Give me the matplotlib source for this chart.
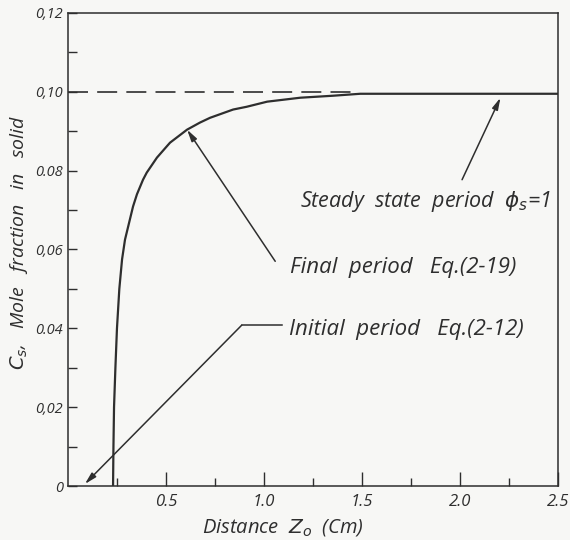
import numpy as np
import matplotlib
matplotlib.use("Agg")
import matplotlib.pyplot as plt
from matplotlib.ticker import FixedLocator

plt.rcParams['font.family'] = ['Open Sans', 'DejaVu Sans']
plt.rcParams['font.style'] = 'italic'
plt.rcParams['mathtext.fontset'] = 'dejavusans'

# concentration profile in the solid
distance = [0.228, 0.230, 0.233, 0.240, 0.248, 0.260, 0.274, 0.289, 0.330, 0.350,
            0.381, 0.400, 0.452, 0.503, 0.519, 0.606, 0.672, 0.723, 0.841, 0.910,
            1.015, 1.184, 1.35, 1.49, 2.5]
mole_frac = [0.0, 0.010, 0.020, 0.030, 0.040, 0.050, 0.0575, 0.0625, 0.0709, 0.0740,
             0.0777, 0.0795, 0.0833, 0.0862, 0.0871, 0.0904, 0.0922, 0.0934, 0.0955, 0.0962,
             0.0975, 0.0985, 0.0990, 0.0995, 0.0995]

# steady state level (dashed)
steady_x = [0.0, 1.45]
steady_y = [0.10, 0.10]

xticks = [0.5, 1.0, 1.5, 2.0, 2.5]
xticklabels = ['0.5', '1.0', '1.5', '2.0', '2.5']
xminor = [0.25, 0.75, 1.25, 1.75, 2.25]
yticks = [0.0, 0.02, 0.04, 0.06, 0.08, 0.10, 0.12]
yticklabels = ['0', '0,02', '0.04', '0,06', '0.08', '0,10', '0,12']
yminor = [0.01, 0.03, 0.05, 0.07, 0.09, 0.11]

ink = '#2e2e2e'
paper = '#f7f7f5'

fig = plt.figure(figsize=(5.7, 5.4), dpi=100, facecolor=paper)
ax = fig.add_axes([0.120, 0.100, 0.859, 0.876], facecolor=paper)

ax.plot(distance, mole_frac, color=ink, lw=1.6, solid_capstyle='round',
        solid_joinstyle='round')
ax.plot(steady_x, steady_y, color=ink, lw=1.2, linestyle=(0, (12, 5.5)))

ax.set_xlim(0, 2.5)
ax.set_ylim(0, 0.12)

for s in ax.spines.values():
    s.set_color(ink)
    s.set_linewidth(1.1)

ax.xaxis.set_major_locator(FixedLocator(xticks))
ax.xaxis.set_minor_locator(FixedLocator(xminor))
ax.set_xticklabels(xticklabels)
ax.yaxis.set_major_locator(FixedLocator(yticks))
ax.yaxis.set_minor_locator(FixedLocator(yminor))
ax.set_yticklabels(yticklabels)

ax.tick_params(axis='x', which='major', direction='in', length=10, width=1, color=ink,
               labelsize=12, pad=6, labelcolor=ink)
ax.tick_params(axis='x', which='minor', direction='in', length=6, width=1, color=ink)
ax.tick_params(axis='y', which='both', direction='in', length=6.5, width=1, color=ink,
               labelsize=10.5, pad=4, labelcolor=ink)

ax.set_xlabel('Distance  $Z_o$  (Cm)', fontsize=14.5, color=ink, va='center')
ax.xaxis.set_label_coords(0.438, -0.087)
ax.set_ylabel('$C_s$,   Mole   fraction   in   solid', fontsize=14, color=ink, va='center')
ax.yaxis.set_label_coords(-0.100, 0.514)

arrow = dict(arrowstyle='-|>,head_length=0.7,head_width=0.18', color=ink, lw=1.1,
             shrinkA=0, shrinkB=0)

# steady state
ax.annotate('', xy=(2.206, 0.0985), xytext=(2.01, 0.0777), arrowprops=arrow)
ax.text(1.18, 0.0722, 'Steady  state  period  $\\phi_s$=1', fontsize=15.5, color=ink,
        ha='left', va='center')

# final period
ax.annotate('', xy=(0.606, 0.0904), xytext=(1.056, 0.0570), arrowprops=arrow)
ax.text(1.133, 0.0555, 'Final  period   Eq.(2-19)', fontsize=16, color=ink,
        ha='left', va='center')

# initial period
ax.plot([0.885, 1.09], [0.0408, 0.0408], color=ink, lw=1.1)
ax.annotate('', xy=(0.084, 0.0005), xytext=(0.885, 0.0408), arrowprops=arrow)
ax.text(1.127, 0.0397, 'Initial  period   Eq.(2-12)', fontsize=16, color=ink,
        ha='left', va='center')

fig.savefig('out.png', dpi=100, facecolor=paper)
